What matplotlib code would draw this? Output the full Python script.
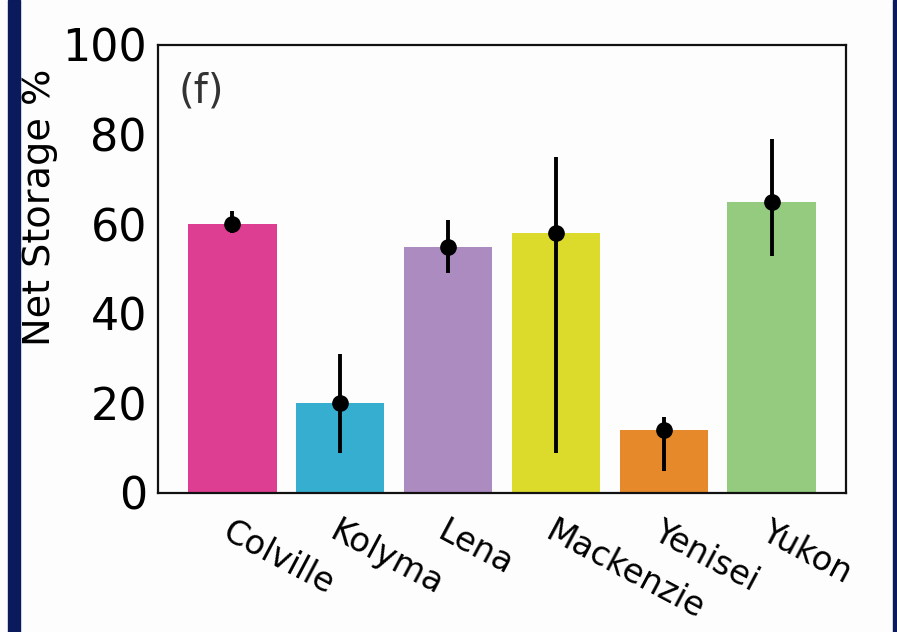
import matplotlib
matplotlib.use("Agg")
import matplotlib.pyplot as plt
from matplotlib.patches import Rectangle
import numpy as np

# River basins and their net storage estimates (%)
rivers = ["Colville", "Kolyma", "Lena", "Mackenzie", "Yenisei", "Yukon"]
net_storage = [60.0, 20.0, 55.0, 58.0, 14.0, 65.0]
storage_low = [58.0, 9.0, 49.0, 9.0, 5.0, 53.0]
storage_high = [63.0, 31.0, 61.0, 75.0, 17.0, 79.0]
bar_colors = ["#dd3e92", "#36aed0", "#ab8bc0", "#dcdb2c", "#e5892b", "#94cb7e"]
y_ticks = [0, 20, 40, 60, 80, 100]

W, H = 897, 632
fig = plt.figure(figsize=(W / 100, H / 100), dpi=100, facecolor="#fdfdfd")

# navy frame strips
navy = "#0b1a5c"
fig.patches.append(Rectangle((8 / W, 0), 12 / W, 1, transform=fig.transFigure,
                             color=navy, zorder=0))
fig.patches.append(Rectangle((893 / W, 0), 4 / W, 1, transform=fig.transFigure,
                             color=navy, zorder=0))

ax = fig.add_axes([158 / W, 1 - 493 / H, (846 - 158) / W, (493 - 45) / H])
ax.set_facecolor("#fdfdfd")

x = np.arange(len(rivers))
ax.bar(x, net_storage, width=0.82, color=bar_colors, zorder=1)

vals = np.array(net_storage)
yerr = np.vstack([vals - np.array(storage_low), np.array(storage_high) - vals])
ax.errorbar(x, vals, yerr=yerr, fmt="o", color="black", ms=11,
            elinewidth=2.8, capsize=0, zorder=3)

ax.set_xlim(-0.69, 5.69)
ax.set_ylim(0, 100)
ax.set_yticks(y_ticks)
ax.set_yticklabels([str(t) for t in y_ticks], fontsize=32)
ax.set_xticks(x)
ax.set_xticklabels(rivers, fontsize=24, rotation=-28, ha="left", va="top",
                   rotation_mode="anchor")
ax.tick_params(axis="y", length=0, pad=8)
ax.tick_params(axis="x", length=0, pad=16)

for s in ax.spines.values():
    s.set_linewidth(1.6)
    s.set_color("#111111")

ax.set_ylabel("Net Storage %", fontsize=27.5)
ax.yaxis.set_label_coords(-0.145, 0.637)

ax.text(0.03, 0.94, "(f)", transform=ax.transAxes, fontsize=29,
        color="#333333", ha="left", va="top")

fig.savefig("out.png", dpi=100, facecolor=fig.get_facecolor())
